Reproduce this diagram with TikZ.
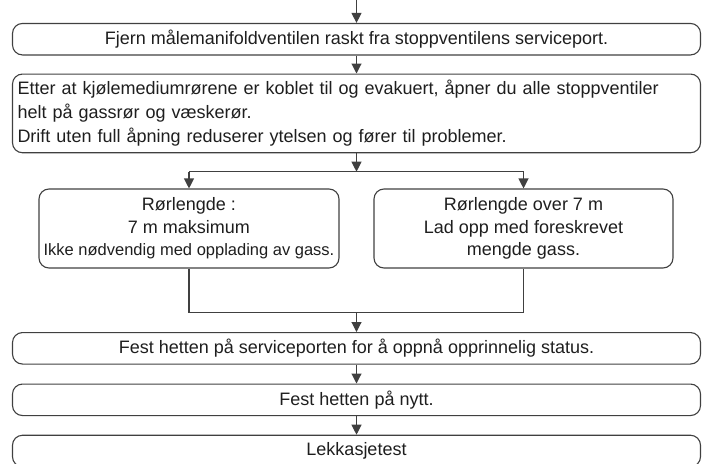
\documentclass[tikz,border=0pt]{standalone}
\usepackage{fontspec}
\setmainfont{Liberation Sans}
\usetikzlibrary{positioning,arrows.meta}
\definecolor{flowgray}{RGB}{64,64,64}
\definecolor{flowtext}{RGB}{30,30,30}

\begin{document}
\begin{tikzpicture}[x=1pt, y=-1pt, font=\fontsize{18}{24}\selectfont, text=flowtext,
  stepbox/.style={draw=flowgray, line width=1.1pt, rounded corners=10pt, inner sep=0pt, minimum height=31.5pt},
  wide/.style={stepbox, minimum width=688pt},
  half/.style={stepbox, minimum width=300pt, minimum height=79pt, align=center, font=\fontsize{18}{22.5}\selectfont},
  flow/.style={draw=flowgray, line width=1.1pt},
  arr/.style={flow, -{Triangle[length=10pt,width=10pt]}}]
\useasboundingbox (0,0) rectangle (706,463);
\clip (0,0) rectangle (706,463);

\coordinate (start) at (356.5,0);
\node[wide] (fjern) at (356.5,39.2) {Fjern målemanifoldventilen raskt fra stoppventilens serviceport.};
\node[wide, minimum height=78.7pt, text width=678pt, inner xsep=5pt, align=left] (apne) at (356.5,113.4)
  {Etter at kjølemediumrørene er koblet til og evakuert, åpner du alle stoppventiler\\
   helt på gassrør og væskerør.\\
   Drift uten full åpning reduserer ytelsen og fører til problemer.};

% two cases
\node[half] (kort) at (189,228.5) {Rørlengde :\\7 m maksimum\\{\fontsize{16.5}{20}\selectfont Ikke nødvendig med opplading av gass.}};
\node[half, minimum width=299pt] (lang) at (523.5,228.5) {Rørlengde over 7 m\\Lad opp med foreskrevet\\mengde gass.};

\node[wide] (fest) at (356.5,348.3) {Fest hetten på serviceporten for å oppnå opprinnelig status.};
\node[wide] (hette) at (356.5,399.8) {Fest hetten på nytt.};
\node[wide] (lekk) at (356.5,451) {Lekkasjetest};

\coordinate (delt) at (356.5,171.7);
\coordinate (samle) at (356.5,312.3);

\draw[arr] (start) -- (fjern);
\draw[arr] (fjern) -- (apne);
\draw[arr] (apne) -- (delt);
\draw[flow] (kort.north |- delt) -- (lang.north |- delt);
\draw[arr] (kort.north |- delt) -- (kort);
\draw[arr] (lang.north |- delt) -- (lang);
\draw[flow] (kort.south) |- (samle) -| (lang.south);
\draw[arr] (samle) -- (fest);
\draw[arr] (fest) -- (hette);
\draw[arr] (hette) -- (lekk);
\end{tikzpicture}
\end{document}
